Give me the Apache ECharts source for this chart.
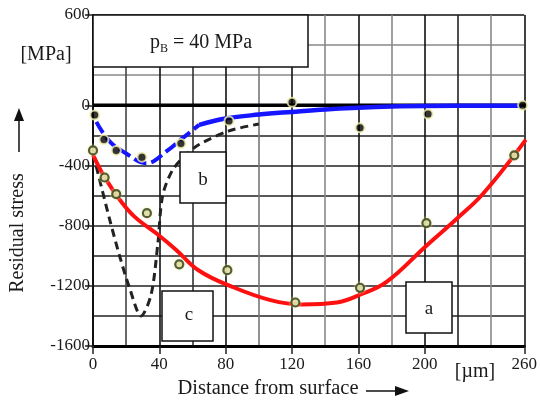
<!DOCTYPE html>
<html><head><meta charset="utf-8">
<script src="https://cdn.jsdelivr.net/npm/echarts@6/dist/echarts.min.js"></script>
<style>html,body{margin:0;padding:0;background:#fff}#c{width:540px;height:402px}</style>
</head><body><div id="c"></div>
<script>
// ---- data ----
const xTickLabels = [0, 40, 80, 120, 160, 200, 260];
const yTickLabels = [600, 0, -400, -800, -1200, -1600];

// curve a (red)
const redX = [0, 5, 10, 16, 25, 40, 50, 64, 84, 107, 126, 147, 161, 177, 201, 219, 235, 261];
const redY = [-330, -440, -530, -626, -740, -867, -960, -1100, -1207, -1295, -1324, -1311, -1259, -1174, -933, -757, -590, -228];
const redPtX = [0, 7, 14, 32.5, 52, 81, 122, 161, 201, 254];
const redPtY = [-300, -480, -590, -717, -1057, -1096, -1311, -1213, -783, -333];

// curve b (blue)
const blueDashX = [2, 10, 20, 32, 45, 55, 64];
const blueDashY = [-110, -240, -320, -385, -300, -210, -130];
const blueSolidX = [64, 80, 100, 120, 140, 170, 200, 258];
const blueSolidY = [-130, -88, -62, -44, -28, -12, -5, -3];
const bluePtX = [1, 6.6, 14, 29.5, 53, 82, 120, 161, 202, 259];
const bluePtY = [-65, -228, -300, -345, -254, -104, 20, -150, -58, 0];

// curve c (black dashed)
const blackX = [0, 5, 10, 16, 22, 29, 35, 39, 42, 48, 56, 64, 82, 100];
const blackY = [-320, -540, -757, -1000, -1213, -1400, -1260, -930, -600, -430, -330, -261, -170, -125];

const zip = (xs, ys) => xs.map((x, i) => [x, ys[i]]);
const serif = 'Liberation Serif';
const txt = '#1a1a1a';

const chart = echarts.init(document.getElementById('c'), null, {renderer: 'canvas'});
const xLineColors = ['#111','#444','#111','#333','#111','#777','#111','#888','#111','#888','#111','#222','#888','#111'];
const yLineColors = ['#111','#222','#222','#222','#222','#222','#222','#222','#111','#888','#888','#111'];

chart.setOption({
  animation: false,
  grid: {left: 93, right: 15, top: 15, bottom: 56},
  xAxis: [{
    type: 'value', min: 0, max: 260, interval: 20, position: 'bottom',
    axisLine: {show: false}, axisTick: {show: false}, axisLabel: {show: false},
    splitLine: {show: true, lineStyle: {color: xLineColors, width: 1.6}}
  }, {
    type: 'value', min: 0, max: 260, position: 'bottom', offset: 0,
    axisLine: {show: true, onZero: false, lineStyle: {color: '#000', width: 3}},
    axisTick: {show: true, length: 8, customValues: xTickLabels, lineStyle: {color: '#222', width: 1.5}},
    axisLabel: {customValues: xTickLabels, formatter: v => String(v), fontFamily: serif, fontSize: 17, color: txt, margin: 10},
    splitLine: {show: false}
  }],
  yAxis: [{
    type: 'value', min: -1600, max: 600, interval: 200, position: 'left',
    axisLine: {show: false}, axisTick: {show: false}, axisLabel: {show: false},
    splitLine: {show: true, lineStyle: {color: yLineColors, width: 1.6}}
  }, {
    type: 'value', min: -1600, max: 600, position: 'left', offset: 0,
    axisLine: {show: true, onZero: false, lineStyle: {color: '#111', width: 2}},
    axisTick: {show: true, length: 8, customValues: yTickLabels, lineStyle: {color: '#222', width: 1.5}},
    axisLabel: {customValues: yTickLabels, formatter: v => String(v), fontFamily: serif, fontSize: 17, color: txt, margin: 3},
    splitLine: {show: false}
  }],
  series: [
    {type: 'line', data: [[0,0],[260,0]], symbol: 'none', lineStyle: {color: '#000', width: 3.5}, z: 2},
    {type: 'line', data: zip(blackX, blackY), smooth: 0.3, symbol: 'none', lineStyle: {color: '#222', width: 3, type: [8, 5]}, z: 3},
    {type: 'line', data: zip(redX, redY), smooth: 0.4, symbol: 'none', lineStyle: {color: '#ff1010', width: 4}, z: 4},
    {type: 'line', data: zip(blueDashX, blueDashY), smooth: 0.4, symbol: 'none', lineStyle: {color: '#1515ff', width: 4, type: [13, 5]}, z: 4},
    {type: 'line', data: zip(blueSolidX, blueSolidY), smooth: 0.4, symbol: 'none', lineStyle: {color: '#1515ff', width: 4.5}, z: 4},
    {type: 'scatter', data: zip(bluePtX, bluePtY), symbol: 'circle', symbolSize: 9,
      itemStyle: {color: '#000', borderColor: '#f2f0b0', borderWidth: 2}, z: 6},
    {type: 'scatter', data: zip(redPtX, redPtY), symbol: 'circle', symbolSize: 8,
      itemStyle: {color: '#d8d8a8', borderColor: '#2e3a18', borderWidth: 2.2, shadowColor: '#f0eea0', shadowBlur: 3}, z: 6}
  ],
  graphic: [
    {type: 'rect', shape: {x: 93, y: 15, width: 215, height: 52}, style: {fill: '#fff', stroke: '#111', lineWidth: 1.5}, z: 10},
    {type: 'text', x: 201, y: 43, style: {text: '{n|p}{s|B}{n| = 40 MPa}', align: 'center', verticalAlign: 'middle',
      rich: {n: {fontFamily: serif, fontSize: 20, fill: txt}, s: {fontFamily: serif, fontSize: 12, fill: txt, padding: [12, 0, 0, 0]}}}, z: 11},
    {type: 'text', x: 46, y: 55, style: {text: '[MPa]', fontFamily: serif, fontSize: 20, fill: txt, align: 'center', verticalAlign: 'middle'}, z: 11},
    {type: 'rect', shape: {x: 180, y: 152, width: 46, height: 51}, style: {fill: '#fff', stroke: '#111', lineWidth: 1.5}, z: 10},
    {type: 'text', x: 203, y: 180, style: {text: 'b', fontFamily: serif, fontSize: 19, fill: txt, align: 'center', verticalAlign: 'middle'}, z: 11},
    {type: 'rect', shape: {x: 162, y: 291, width: 51, height: 50}, style: {fill: '#fff', stroke: '#111', lineWidth: 1.5}, z: 10},
    {type: 'text', x: 189, y: 315, style: {text: 'c', fontFamily: serif, fontSize: 19, fill: txt, align: 'center', verticalAlign: 'middle'}, z: 11},
    {type: 'rect', shape: {x: 406, y: 282, width: 46, height: 51}, style: {fill: '#fff', stroke: '#111', lineWidth: 1.5}, z: 10},
    {type: 'text', x: 429, y: 309, style: {text: 'a', fontFamily: serif, fontSize: 19, fill: txt, align: 'center', verticalAlign: 'middle'}, z: 11},
    {type: 'text', x: 475, y: 372, style: {text: '[µm]', fontFamily: serif, fontSize: 20, fill: txt, align: 'center', verticalAlign: 'middle'}, z: 11},
    {type: 'text', x: 268, y: 389, style: {text: 'Distance from surface', fontFamily: serif, fontSize: 20.5, fill: txt, align: 'center', verticalAlign: 'middle'}, z: 11},
    {type: 'line', shape: {x1: 366, y1: 391, x2: 398, y2: 391}, style: {stroke: '#111', lineWidth: 1.5}, z: 11},
    {type: 'polygon', shape: {points: [[395, 386], [409, 391], [395, 396]]}, style: {fill: '#111'}, z: 11},
    {type: 'text', x: 18, y: 233, rotation: Math.PI / 2, style: {text: 'Residual stress', fontFamily: serif, fontSize: 20, fill: txt, align: 'center', verticalAlign: 'middle'}, z: 11},
    {type: 'line', shape: {x1: 19, y1: 152, x2: 19, y2: 118}, style: {stroke: '#111', lineWidth: 1.5}, z: 11},
    {type: 'polygon', shape: {points: [[14, 121], [19, 108], [24, 121]]}, style: {fill: '#111'}, z: 11}
  ]
});
</script></body></html>
